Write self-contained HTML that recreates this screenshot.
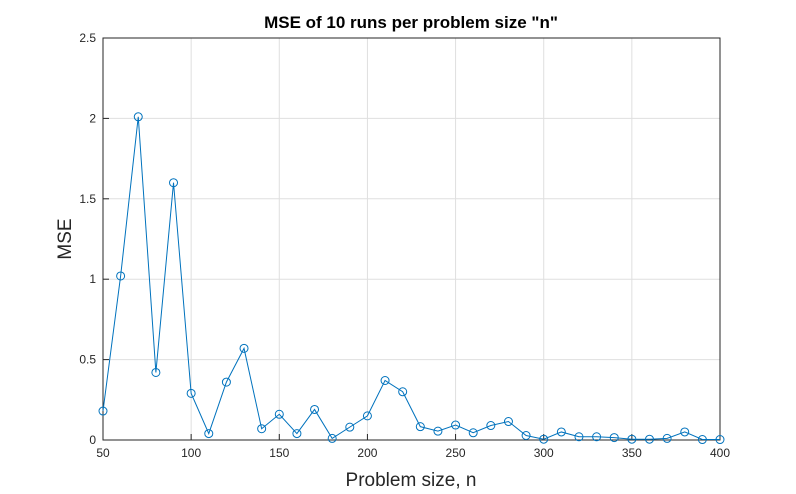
<!DOCTYPE html>
<html><head><meta charset="utf-8"><style>
body{margin:0;background:#fff;}
svg{display:block;font-family:"Liberation Sans",sans-serif;}
</style></head><body>
<svg id="chart" width="796" height="494" viewBox="0 0 796 494">
<rect x="0" y="0" width="796" height="494" fill="#fff"/>
<rect x="103" y="38" width="617" height="402" fill="#fff"/>
<g id="grid"></g>
<g id="axes"></g>
<g id="series"></g>
<text x="411" y="28" text-anchor="middle" font-size="17" font-weight="bold" fill="#000">MSE of 10 runs per problem size "n"</text>
<text x="411" y="486" text-anchor="middle" font-size="19" fill="#262626">Problem size, n</text>
<text transform="translate(71,239) rotate(-90)" text-anchor="middle" font-size="19" fill="#262626">MSE</text>
</svg>
<script>
const nValues=[50,60,70,80,90,100,110,120,130,140,150,160,170,180,190,200,210,220,230,240,250,260,270,280,290,300,310,320,330,340,350,360,370,380,390,400];
const mseValues=[0.18,1.02,2.01,0.42,1.60,0.29,0.04,0.36,0.57,0.07,0.16,0.04,0.19,0.01,0.08,0.15,0.37,0.30,0.083,0.055,0.093,0.045,0.09,0.115,0.028,0.005,0.05,0.02,0.02,0.015,0.005,0.005,0.01,0.05,0.003,0.003];
const xTicks=[50,100,150,200,250,300,350,400];
const yTicks=[0,0.5,1,1.5,2,2.5];
const yTickLabels=["0","0.5","1","1.5","2","2.5"];
const L=103,R=720,T=38,B=440;
const xs=v=>L+(v-50)/(400-50)*(R-L);
const ys=v=>B-v/2.5*(B-T);
const NS="http://www.w3.org/2000/svg";
function mk(tag,attrs,parent){const e=document.createElementNS(NS,tag);for(const k in attrs)e.setAttribute(k,attrs[k]);parent.appendChild(e);return e;}
const grid=document.getElementById('grid'),axes=document.getElementById('axes'),ser=document.getElementById('series');
xTicks.forEach(t=>{const x=xs(t);
 const g=mk('line',{x1:x,x2:x,y1:T,y2:B,stroke:'#dfdfdf','stroke-width':1},grid);
 
 
 const tk=mk('line',{x1:x,x2:x,y1:B,y2:B-6,stroke:'#262626'},axes);
 
 
 const tx=mk('text',{x:x,y:B+17,'text-anchor':'middle','font-size':12,fill:'#262626'},axes);tx.textContent=t;
 
 
});
yTicks.forEach((t,i)=>{const y=ys(t);
 const g=mk('line',{x1:L,x2:R,y1:y,y2:y,stroke:'#dfdfdf','stroke-width':1},grid);
 
 
 const tk=mk('line',{x1:L,x2:L+6,y1:y,y2:y,stroke:'#262626'},axes);
 
 
 const tx=mk('text',{x:L-7,y:y+4,'text-anchor':'end','font-size':12,fill:'#262626'},axes);tx.textContent=yTickLabels[i];
 
 
});
const box=mk('rect',{x:L,y:T,width:R-L,height:B-T,fill:'none',stroke:'#262626','stroke-width':1},axes);


const pts=nValues.map((n,i)=>xs(n)+','+ys(mseValues[i])).join(' ');
const line=mk('polyline',{points:pts,fill:'none',stroke:'#0072bd','stroke-width':1},ser);


nValues.forEach((n,i)=>{
 const c=mk('circle',{cx:xs(n),cy:ys(mseValues[i]),r:4,fill:'none',stroke:'#0072bd','stroke-width':1},ser);
 
 
});
</script>
</body></html>
